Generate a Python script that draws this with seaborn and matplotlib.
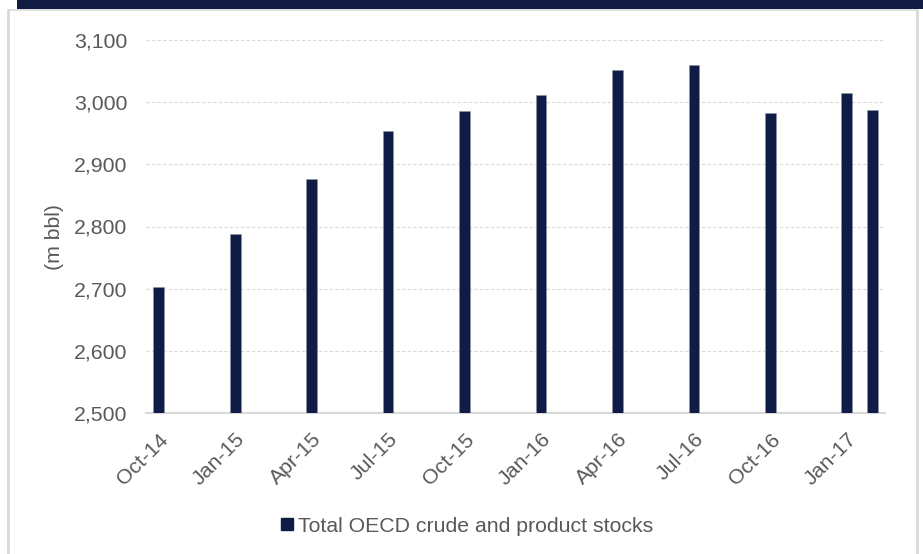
import numpy as np
import pandas as pd
import matplotlib
matplotlib.use("Agg")
import matplotlib.pyplot as plt
import seaborn as sns
from matplotlib.patches import Rectangle
from matplotlib.lines import Line2D
from matplotlib.ticker import FuncFormatter, FixedLocator

# ---- data ----
months = ["Oct-14", "Nov-14", "Dec-14", "Jan-15", "Feb-15", "Mar-15", "Apr-15", "May-15",
          "Jun-15", "Jul-15", "Aug-15", "Sep-15", "Oct-15", "Nov-15", "Dec-15", "Jan-16",
          "Feb-16", "Mar-16", "Apr-16", "May-16", "Jun-16", "Jul-16", "Aug-16", "Sep-16",
          "Oct-16", "Nov-16", "Dec-16", "Jan-17", "Feb-17"]
bar_months = ["Oct-14", "Jan-15", "Apr-15", "Jul-15", "Oct-15", "Jan-16", "Apr-16",
              "Jul-16", "Oct-16", "Jan-17", "Feb-17"]
stocks = [2703, 2788, 2877, 2953, 2986, 3011, 3052, 3060, 2983, 3015, 2987]
series_name = "Total OECD crude and product stocks"
y_label = "(m bbl)"
y_ticks = [2500, 2600, 2700, 2800, 2900, 3000, 3100]
x_tick_labels = months[::3]

navy = "#101C45"
grey_txt = "#595959"
light = "#D9D9D9"
fs = 15.3

df = pd.DataFrame({"month": bar_months, "stocks": stocks})

sns.set_style("white")
plt.rcParams["font.family"] = ["Liberation Sans", "DejaVu Sans"]

W, H = 923, 554
fig = plt.figure(figsize=(W / 100, H / 100), dpi=100)
ax = fig.add_axes([146 / W, 1 - 413 / H, (885 - 146) / W, (413 - 40) / H])

sns.barplot(data=df, x="month", y="stocks", order=months, color=navy,
            width=0.42, saturation=1, errorbar=None, ax=ax, zorder=3,
            edgecolor="#8C93A8", linewidth=0.4)

ax.set_xlim(-0.5, len(months) - 0.5)
ax.set_ylim(2500, 3100)
ax.set_yticks(y_ticks)
ax.yaxis.set_major_formatter(FuncFormatter(lambda v, p: f"{int(v):,}"))
ax.tick_params(axis="y", length=0, pad=13.5, labelsize=fs, labelcolor=grey_txt)

# x ticks: labels at category centres, tick marks at category boundaries
ax.set_xticks(range(0, len(months), 3))
ax.set_xticklabels(x_tick_labels, rotation=45, ha="right", rotation_mode="anchor")
ax.tick_params(axis="x", which="major", length=0, pad=12, labelsize=fs, labelcolor=grey_txt)
ax.xaxis.set_minor_locator(FixedLocator([i - 0.5 for i in range(0, len(months) - 1, 3)]))
ax.tick_params(axis="x", which="minor", length=6, width=1.5, color=light)

ax.yaxis.grid(True, color=light, linestyle=(0, (3, 2)), linewidth=0.8, zorder=0)
ax.set_axisbelow(True)
for s in ["top", "right", "left"]:
    ax.spines[s].set_visible(False)
ax.spines["bottom"].set_color(light)
ax.spines["bottom"].set_linewidth(1.5)
ax.set_xlabel("")
ax.set_ylabel("")

fig.text(55 / W, 1 - 237 / H, y_label, rotation=90, ha="center", va="center",
         fontsize=fs, color=grey_txt)

handle = Line2D([], [], marker="s", linestyle="none", markersize=8,
                markerfacecolor=navy, markeredgecolor=navy)
fig.legend([handle], [series_name], loc="center", bbox_to_anchor=(0.505, 1 - 526 / H),
           frameon=False, fontsize=fs, labelcolor=grey_txt, handletextpad=0.1,
           handlelength=0.8)

# decorations: top band and frame
fig.add_artist(Rectangle((17 / W, 1 - 9 / H), (W - 17) / W, 9 / H,
                         transform=fig.transFigure, facecolor="#111B42",
                         edgecolor="none", zorder=5))
fig.add_artist(Line2D([8 / W, 917 / W], [1 - 10 / H, 1 - 10 / H],
                      transform=fig.transFigure, color=light, linewidth=1.2))
fig.add_artist(Line2D([8 / W, 8 / W], [0, 1 - 10 / H],
                      transform=fig.transFigure, color=light, linewidth=2))
fig.add_artist(Line2D([917 / W, 917 / W], [0, 1 - 10 / H],
                      transform=fig.transFigure, color=light, linewidth=2))

fig.savefig("out.png", dpi=100)
